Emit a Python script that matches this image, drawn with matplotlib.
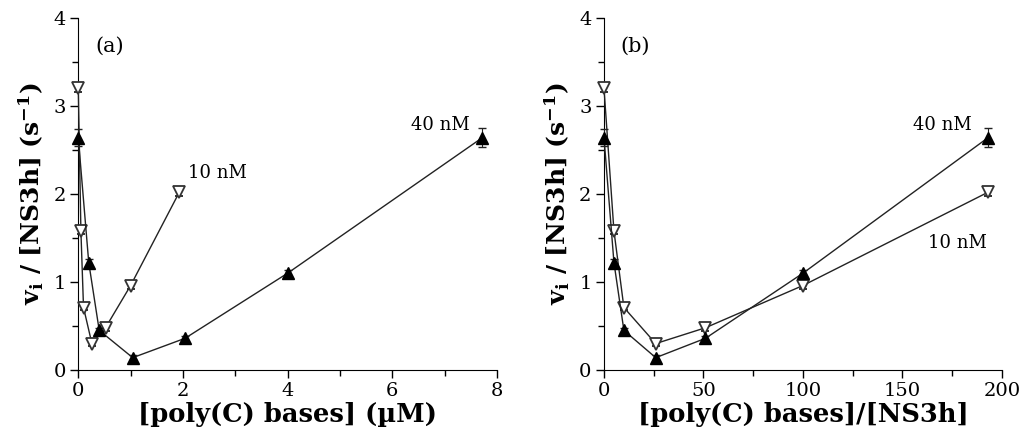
import numpy as np
import matplotlib.pyplot as plt
from matplotlib.ticker import MultipleLocator

# ratio [poly(C) bases]/[NS3h]
ratio = [0, 5, 10, 26, 51, 100, 193]

# poly(C) bases in uM, for each enzyme concentration
conc_10nM = [0, 0.05, 0.10, 0.26, 0.52, 1.00, 1.93]
conc_40nM = [0, 0.20, 0.40, 1.04, 2.04, 4.00, 7.72]

# vi/[NS3h] (s^-1)
v_10nM = [3.20, 1.58, 0.71, 0.30, 0.48, 0.96, 2.02]
v_40nM = [2.64, 1.22, 0.45, 0.14, 0.36, 1.10, 2.64]
err_10nM = [0.04, 0.04, 0.03, 0.03, 0.04, 0.04, 0.04]
err_40nM = [0.10, 0.04, 0.03, 0.03, 0.03, 0.04, 0.11]

plt.rcParams['font.family'] = ['DejaVu Serif']
plt.rcParams['mathtext.fontset'] = 'dejavuserif'

fig = plt.figure(figsize=(10.22, 4.44), dpi=100)
ax1 = fig.add_axes([0.0766, 0.1667, 0.4097, 0.7928])
ax2 = fig.add_axes([0.591, 0.1667, 0.3894, 0.7928])

lc = '#222222'


def draw(ax, x10, x40):
    l1 = ax.errorbar(x10, v_10nM, yerr=err_10nM, color=lc, lw=1.0, marker='v',
                     ms=8, mfc='white', mec='#333333', mew=1.3, capsize=3,
                     elinewidth=0.8, zorder=3)
    l2 = ax.errorbar(x40, v_40nM, yerr=err_40nM, color=lc, lw=1.0, marker='^',
                     ms=8, mfc='black', mec='black', capsize=3,
                     elinewidth=0.8, zorder=4)
    for cont in (l1, l2):
        for art in cont.get_children():
            art.set_clip_on(False)
    ax.set_ylim(0, 4)
    ax.yaxis.set_major_locator(MultipleLocator(1))
    ax.yaxis.set_minor_locator(MultipleLocator(0.5))
    for s in ['top', 'right']:
        ax.spines[s].set_visible(False)
    ax.tick_params(which='major', direction='out', length=6, width=1,
                   labelsize=14, pad=3)
    ax.tick_params(which='minor', direction='out', length=4, width=1)
    ax.set_ylabel(r'$\mathbf{v_i}$ / [NS3h] (s$^{\mathbf{-1}}$)',
                  fontsize=18, fontweight='bold', labelpad=5)


draw(ax1, conc_10nM, conc_40nM)
ax1.set_xlim(0, 8)
ax1.xaxis.set_major_locator(MultipleLocator(2))
ax1.xaxis.set_minor_locator(MultipleLocator(1))
ax1.set_xlabel('[poly(C) bases] (µM)', fontsize=18.5, fontweight='bold',
               labelpad=1)
ax1.text(0.04, 0.92, '(a)', transform=ax1.transAxes, fontsize=15,
         va='center')
ax1.text(2.09, 2.24, '10 nM', fontsize=13, va='center', ha='left')
ax1.text(7.48, 2.78, '40 nM', fontsize=13, va='center', ha='right')

draw(ax2, ratio, ratio)
ax2.set_xlim(0, 200)
ax2.xaxis.set_major_locator(MultipleLocator(50))
ax2.xaxis.set_minor_locator(MultipleLocator(25))
ax2.set_xlabel('[poly(C) bases]/[NS3h]', fontsize=18.5, fontweight='bold',
               labelpad=1)
ax2.text(0.04, 0.92, '(b)', transform=ax2.transAxes, fontsize=15,
         va='center')
ax2.text(185, 2.78, '40 nM', fontsize=13, va='center', ha='right')
ax2.text(163, 1.44, '10 nM', fontsize=13, va='center', ha='left')

fig.savefig('out.png', dpi=100)
